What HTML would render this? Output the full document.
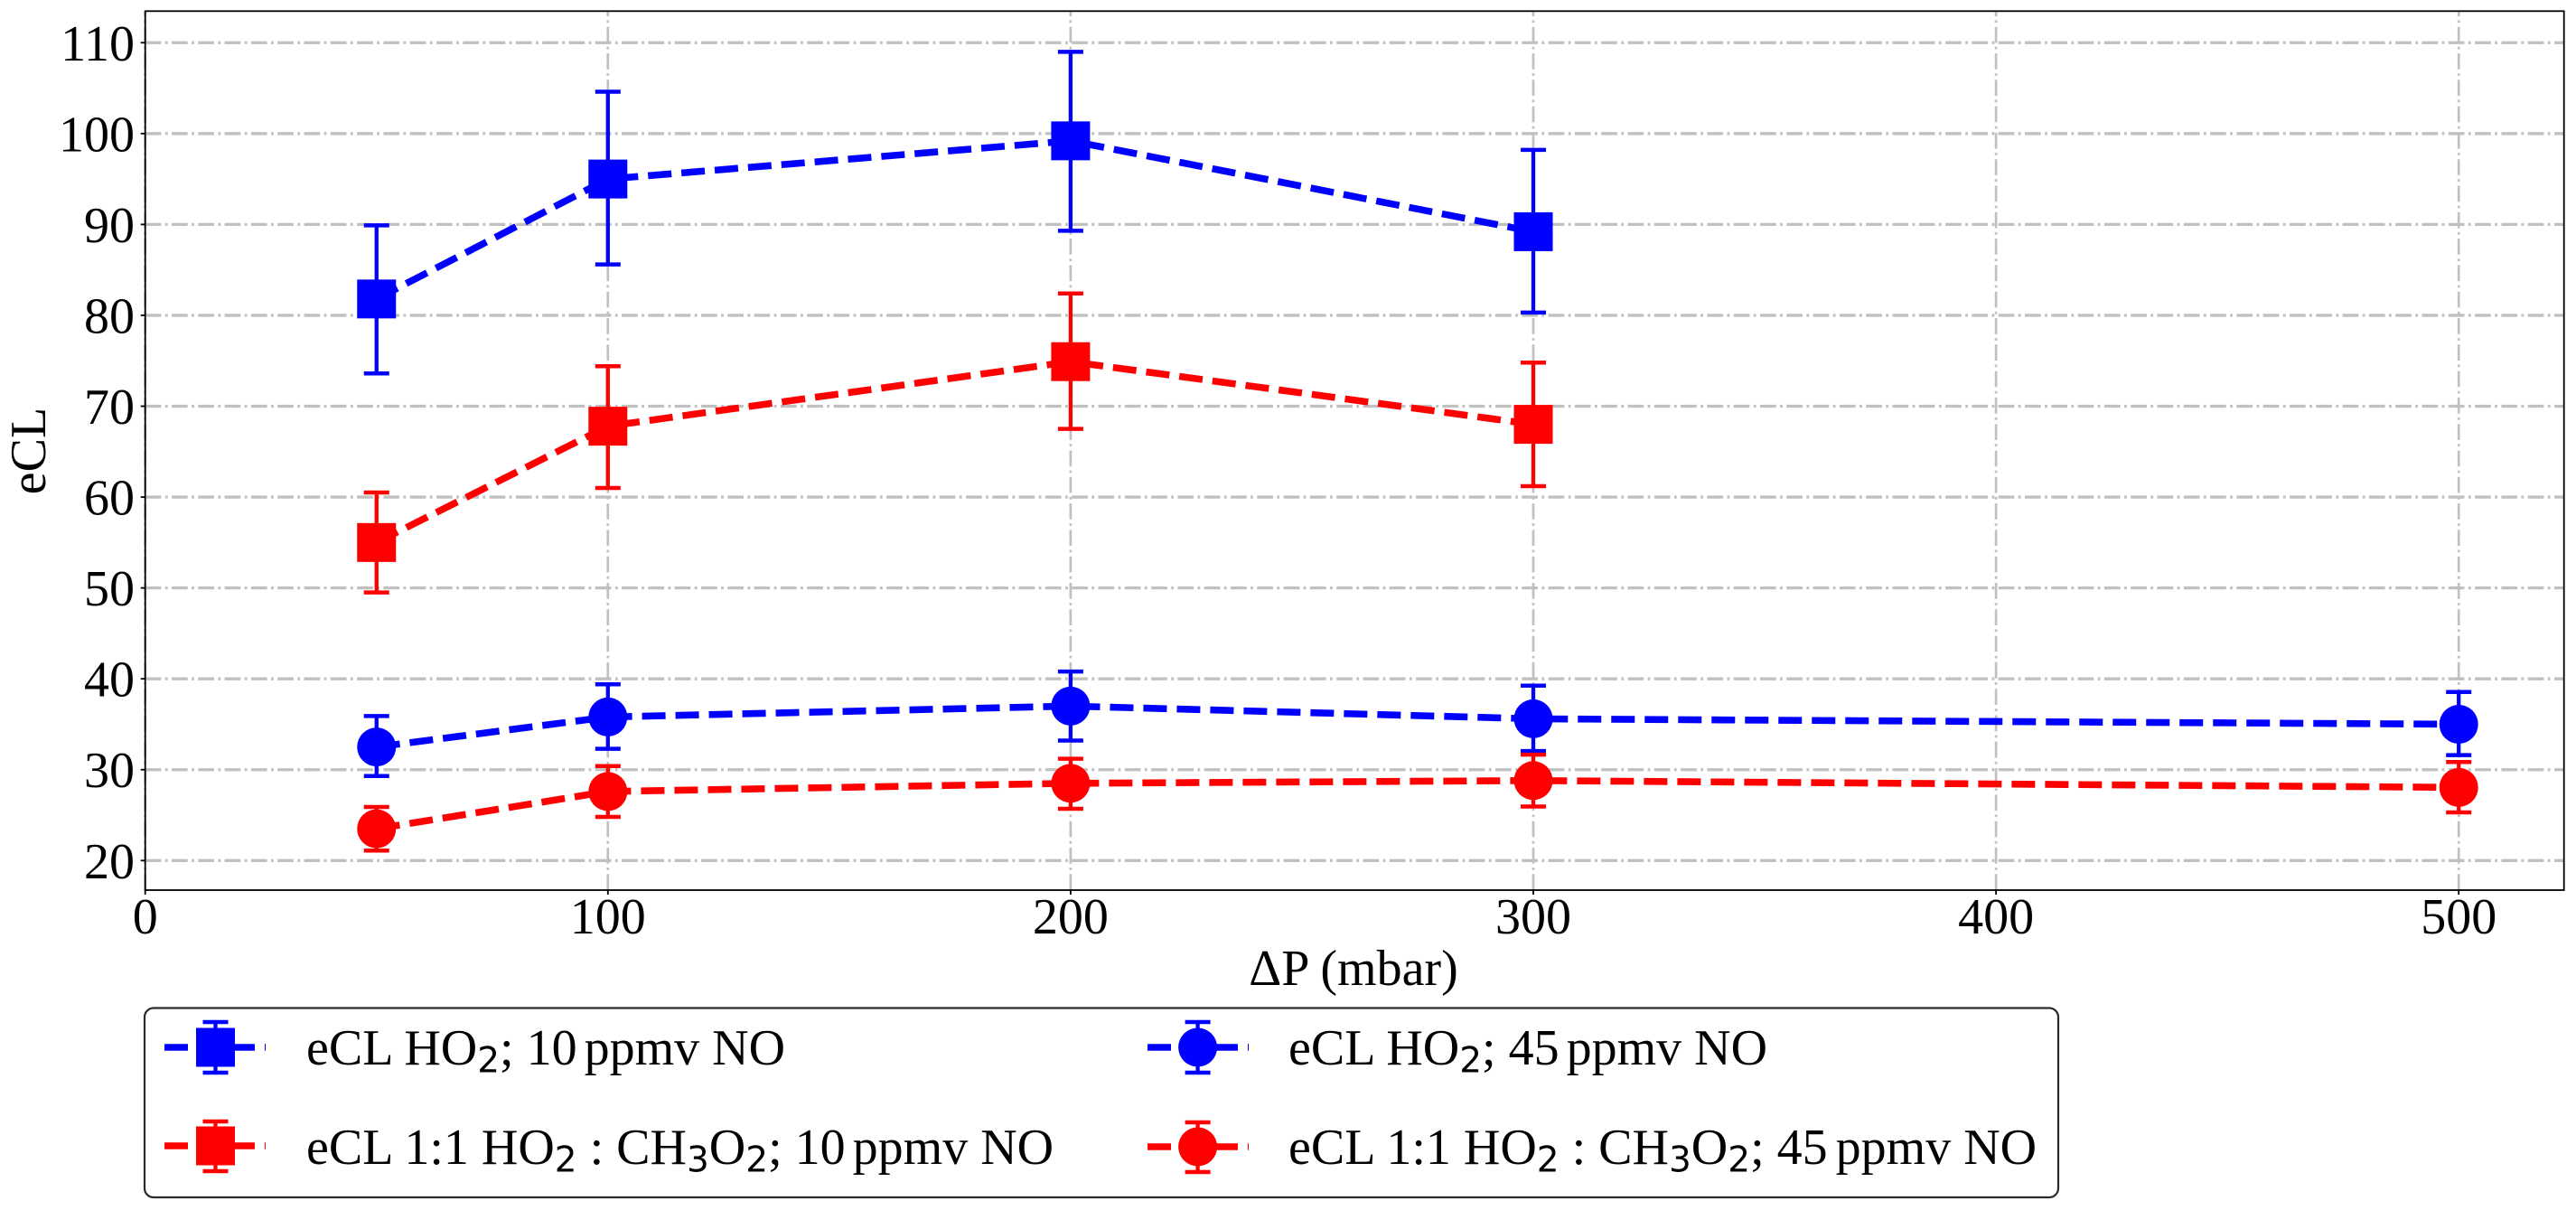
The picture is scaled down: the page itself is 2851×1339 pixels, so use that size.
<!DOCTYPE html>
<html lang="en">
<head>
<meta charset="utf-8">
<title>eCL vs pressure difference</title>
<style>
  html, body { margin: 0; padding: 0; background: #ffffff; }
  svg { display: block; }
  text { font-family: "Liberation Serif", serif; font-size: 56px; fill: #000000; }
  .sub { font-family: "DejaVu Sans", sans-serif; font-size: 39px; }
</style>
</head>
<body>
<svg id="chart" xmlns="http://www.w3.org/2000/svg" width="2851" height="1339" viewBox="0 0 2851 1339">
  <rect x="0" y="0" width="2851" height="1339" fill="#ffffff"/>
  <g id="grid"></g>
  <g id="series"></g>
  <g id="axes"></g>

  <text x="1498" y="1090" text-anchor="middle">ΔP (mbar)</text>
  <text x="50" y="499" text-anchor="middle" transform="rotate(-90 50 499)">eCL</text>

  <g>
    <rect x="160" y="1115.5" width="2118" height="209.5" rx="10" ry="10" fill="#ffffff" stroke="#2a2a2a" stroke-width="2.2"/>

    <g>
      <line x1="182" y1="1159" x2="294" y2="1159" stroke="#0000ff" stroke-width="7.6" stroke-dasharray="26 11"/>
      <line x1="238.5" y1="1131" x2="238.5" y2="1187" stroke="#0000ff" stroke-width="4.3"/>
      <line x1="224.5" y1="1131" x2="252.5" y2="1131" stroke="#0000ff" stroke-width="4.5"/>
      <line x1="224.5" y1="1187" x2="252.5" y2="1187" stroke="#0000ff" stroke-width="4.5"/>
      <rect x="217" y="1137.5" width="43" height="43" fill="#0000ff"/>
      <text x="339" y="1178">eCL HO<tspan class="sub" dy="8.5">2</tspan><tspan dy="-8.5">; 10</tspan><tspan dx="-6"> ppmv NO</tspan></text>
    </g>

    <g>
      <line x1="182" y1="1268" x2="294" y2="1268" stroke="#ff0000" stroke-width="7.6" stroke-dasharray="26 11"/>
      <line x1="238.5" y1="1240" x2="238.5" y2="1296" stroke="#ff0000" stroke-width="4.3"/>
      <line x1="224.5" y1="1241" x2="252.5" y2="1241" stroke="#ff0000" stroke-width="4.5"/>
      <line x1="224.5" y1="1296" x2="252.5" y2="1296" stroke="#ff0000" stroke-width="4.5"/>
      <rect x="217" y="1246.5" width="43" height="43" fill="#ff0000"/>
      <text x="339" y="1288">eCL 1:1 HO<tspan class="sub" dy="8.5">2</tspan><tspan dy="-8.5"> : CH</tspan><tspan class="sub" dy="8.5">3</tspan><tspan dy="-8.5">O</tspan><tspan class="sub" dy="8.5">2</tspan><tspan dy="-8.5">; 10</tspan><tspan dx="-6"> ppmv NO</tspan></text>
    </g>

    <g>
      <line x1="1270" y1="1159" x2="1382" y2="1159" stroke="#0000ff" stroke-width="7.6" stroke-dasharray="26 11"/>
      <line x1="1325.6" y1="1131" x2="1325.6" y2="1187" stroke="#0000ff" stroke-width="4.3"/>
      <line x1="1311.6" y1="1131" x2="1339.6" y2="1131" stroke="#0000ff" stroke-width="4.5"/>
      <line x1="1311.6" y1="1187" x2="1339.6" y2="1187" stroke="#0000ff" stroke-width="4.5"/>
      <circle cx="1325.6" cy="1159" r="21.5" fill="#0000ff"/>
      <text x="1426" y="1178">eCL HO<tspan class="sub" dy="8.5">2</tspan><tspan dy="-8.5">; 45</tspan><tspan dx="-6"> ppmv NO</tspan></text>
    </g>

    <g>
      <line x1="1270" y1="1269" x2="1382" y2="1269" stroke="#ff0000" stroke-width="7.6" stroke-dasharray="26 11"/>
      <line x1="1325.6" y1="1241" x2="1325.6" y2="1297" stroke="#ff0000" stroke-width="4.3"/>
      <line x1="1311.6" y1="1242" x2="1339.6" y2="1242" stroke="#ff0000" stroke-width="4.5"/>
      <line x1="1311.6" y1="1297" x2="1339.6" y2="1297" stroke="#ff0000" stroke-width="4.5"/>
      <circle cx="1325.6" cy="1269" r="21.5" fill="#ff0000"/>
      <text x="1426" y="1288">eCL 1:1 HO<tspan class="sub" dy="8.5">2</tspan><tspan dy="-8.5"> : CH</tspan><tspan class="sub" dy="8.5">3</tspan><tspan dy="-8.5">O</tspan><tspan class="sub" dy="8.5">2</tspan><tspan dy="-8.5">; 45</tspan><tspan dx="-5"> ppmv NO</tspan></text>
    </g>
  </g>
</svg>

<script>
// ---- chart data ----
const xTickLabels = [0, 100, 200, 300, 400, 500];
const yTickLabels = [20, 30, 40, 50, 60, 70, 80, 90, 100, 110];

const pressures10 = [50, 100, 200, 300];
const pressures45 = [50, 100, 200, 300, 500];

const ho2Ten = [81.8, 95.0, 99.2, 89.2];
const ho2TenUpper = [89.9, 104.6, 109.0, 98.2];
const ho2TenLower = [73.6, 85.6, 89.3, 80.3];

const mixTen = [55.0, 67.8, 74.9, 68.0];
const mixTenUpper = [60.5, 74.4, 82.4, 74.8];
const mixTenLower = [49.5, 61.0, 67.5, 61.2];

const ho2FortyFive = [32.5, 35.8, 37.0, 35.6, 35.0];
const ho2FortyFiveUpper = [35.9, 39.4, 40.8, 39.25, 38.55];
const ho2FortyFiveLower = [29.3, 32.3, 33.2, 32.05, 31.6];

const mixFortyFive = [23.5, 27.6, 28.5, 28.8, 28.05];
const mixFortyFiveUpper = [25.9, 30.4, 31.2, 31.65, 30.85];
const mixFortyFiveLower = [21.1, 24.8, 25.7, 25.95, 25.3];

// ---- axis functions ----
const axisLeft = 160.7, axisRight = 2837.7, axisTop = 12.3, axisBottom = 985;
function xScale(v) { return axisLeft + v * 5.121; }
function yScale(v) { return 952.3 - (v - 20) * 10.056; }

const NS = 'http://www.w3.org/2000/svg';
function make(tag, attrs, parent) {
  const el = document.createElementNS(NS, tag);
  for (const k in attrs) el.setAttribute(k, attrs[k]);
  parent.appendChild(el);
  return el;
}

const gridLayer = document.getElementById('grid');
const seriesLayer = document.getElementById('series');
const axesLayer = document.getElementById('axes');
const gridStyle = { stroke: '#c0c0c0', 'stroke-dasharray': '17.7 4.4 2.8 4.4', fill: 'none' };

xTickLabels.forEach(function (t) {
  const px = xScale(t);
  const g = make('line', Object.assign({ x1: px, y1: axisBottom, x2: px, y2: axisTop, 'stroke-width': 2.7 }, gridStyle), gridLayer);
  
  
  const tick = make('line', { x1: px, y1: axisBottom, x2: px, y2: axisBottom + 5, stroke: '#000', 'stroke-width': 1.8 }, axesLayer);
  
  
  const label = make('text', { x: px, y: 1033, 'text-anchor': 'middle' }, axesLayer);
  label.textContent = String(t);
  
  
});

yTickLabels.forEach(function (t) {
  const py = yScale(t);
  const g = make('line', Object.assign({ x1: axisLeft, y1: py, x2: axisRight, y2: py, 'stroke-width': 3.3 }, gridStyle), gridLayer);
  
  
  const tick = make('line', { x1: axisLeft - 5, y1: py, x2: axisLeft, y2: py, stroke: '#000', 'stroke-width': 1.8 }, axesLayer);
  
  
  const label = make('text', { x: 149, y: py + 19.5, 'text-anchor': 'end' }, axesLayer);
  label.textContent = String(t);
  
  
});

const frame = make('rect', { x: axisLeft, y: axisTop, width: axisRight - axisLeft, height: axisBottom - axisTop, fill: 'none', stroke: '#000', 'stroke-width': 1.8 }, axesLayer);



function drawSeries(name, color, shape, xs, ys, upper, lower) {
  const group = make('g', {}, seriesLayer);
  
  

  const pts = xs.map(function (x, i) { return xScale(x) + ',' + yScale(ys[i]); }).join(' ');
  const path = make('polyline', { points: pts, fill: 'none', stroke: color, 'stroke-width': 7.6, 'stroke-dasharray': '26 11', 'stroke-linejoin': 'round' }, group);
  
  

  xs.forEach(function (x, i) {
    const px = xScale(x);
    const py = yScale(ys[i]);
    const top = yScale(upper[i]);
    const bottom = yScale(lower[i]);

    const bar = make('line', { x1: px, y1: top, x2: px, y2: bottom, stroke: color, 'stroke-width': 4.3 }, group);
    
    

    const capTop = make('line', { x1: px - 14, y1: top, x2: px + 14, y2: top, stroke: color, 'stroke-width': 4.5 }, group);
    
    

    const capBottom = make('line', { x1: px - 14, y1: bottom, x2: px + 14, y2: bottom, stroke: color, 'stroke-width': 4.5 }, group);
    
    

    let marker;
    if (shape === 'square') {
      marker = make('rect', { x: px - 21.5, y: py - 21.5, width: 43, height: 43, fill: color }, group);
    } else {
      marker = make('circle', { cx: px, cy: py, r: 21.5, fill: color }, group);
    }
    
    
  });
}

drawSeries('series-ho2-10ppmv', '#0000ff', 'square', pressures10, ho2Ten, ho2TenUpper, ho2TenLower);
drawSeries('series-mix-10ppmv', '#ff0000', 'square', pressures10, mixTen, mixTenUpper, mixTenLower);
drawSeries('series-ho2-45ppmv', '#0000ff', 'circle', pressures45, ho2FortyFive, ho2FortyFiveUpper, ho2FortyFiveLower);
drawSeries('series-mix-45ppmv', '#ff0000', 'circle', pressures45, mixFortyFive, mixFortyFiveUpper, mixFortyFiveLower);
</script>
</body>
</html>
